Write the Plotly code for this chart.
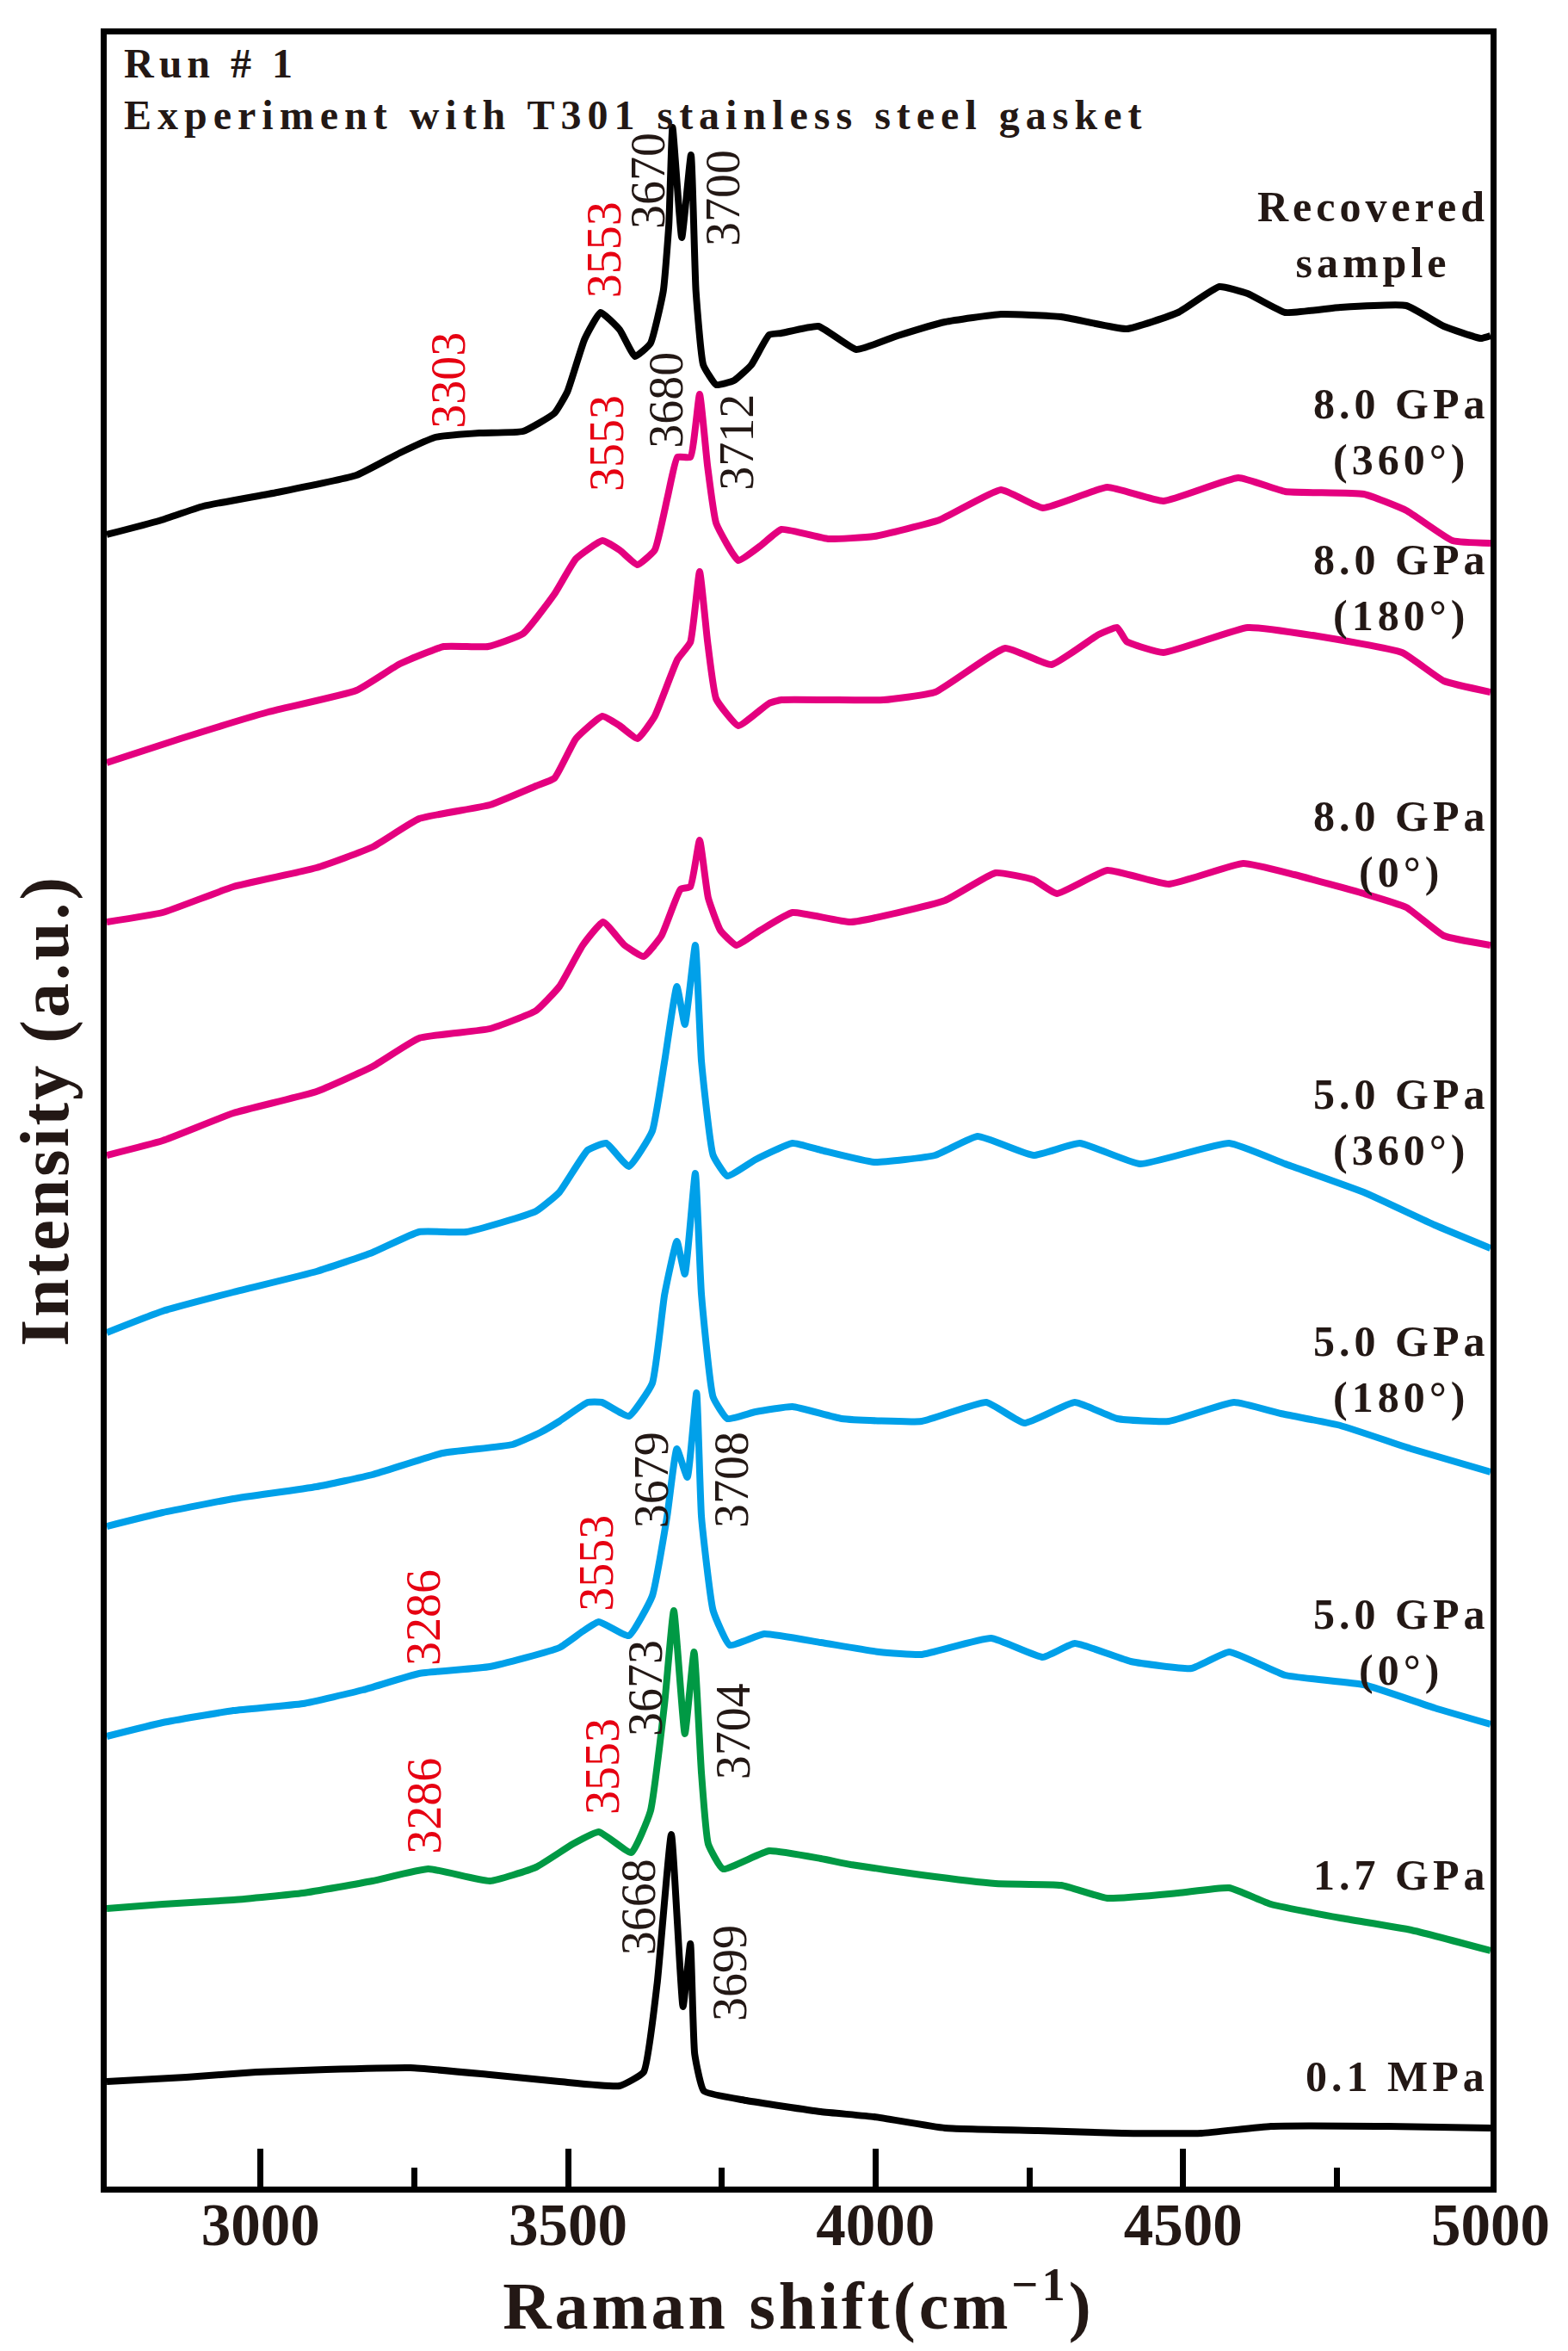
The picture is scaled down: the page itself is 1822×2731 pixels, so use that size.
import plotly.graph_objects as go

# ---------------- data (Raman shift in cm-1, stacked intensity in a.u.) ----------------
wn_recovered = [2750, 2835, 2907, 3027, 3156, 3227, 3284, 3356, 3427, 3478, 3499, 3527, 3553,
                3584, 3609, 3634, 3655, 3664, 3670, 3685, 3700, 3708, 3720, 3741, 3770, 3798,
                3827, 3847, 3907, 3969, 4036, 4113, 4204, 4302, 4408, 4492, 4559, 4605, 4666,
                4756, 4863, 4924, 4984, 5000]
int_recovered = [1919, 1935, 1952, 1968, 1988, 2014, 2032, 2037, 2039, 2060, 2085, 2146, 2177,
                 2157, 2126, 2141, 2202, 2279, 2392, 2264, 2360, 2202, 2116, 2093, 2098, 2116,
                 2151, 2153, 2161, 2134, 2150, 2166, 2175, 2172, 2158, 2177, 2207, 2199, 2177,
                 2183, 2185, 2161, 2147, 2150]

wn_8gpa_360 = [2750, 2870, 3013, 3156, 3227, 3298, 3370, 3427, 3478, 3513, 3556, 3584, 3613,
               3641, 3662, 3678, 3699, 3714, 3727, 3741, 3777, 3813, 3847, 3923, 3998, 4104,
               4204, 4272, 4377, 4468, 4590, 4666, 4794, 4863, 4938, 5000]
int_8gpa_360 = [1654, 1682, 1713, 1738, 1769, 1789, 1789, 1804, 1850, 1891, 1912, 1901, 1884,
                1901, 1963, 2009, 2009, 2082, 1998, 1932, 1889, 1906, 1925, 1914, 1917, 1936,
                1971, 1950, 1974, 1958, 1985, 1969, 1966, 1947, 1912, 1909]

wn_8gpa_180 = [2750, 2841, 2956, 3091, 3182, 3258, 3373, 3448, 3478, 3513, 3556, 3584, 3613,
               3641, 3678, 3699, 3714, 3727, 3741, 3777, 3827, 3847, 3923, 4013, 4097, 4211,
               4286, 4363, 4393, 4408, 4468, 4605, 4719, 4856, 4924, 5000]
int_8gpa_180 = [1469, 1480, 1510, 1532, 1556, 1589, 1605, 1627, 1636, 1682, 1708, 1697, 1682,
                1708, 1774, 1794, 1876, 1794, 1728, 1697, 1723, 1727, 1727, 1727, 1736, 1787,
                1768, 1803, 1811, 1795, 1782, 1811, 1801, 1782, 1749, 1736]

wn_8gpa_0 = [2750, 2841, 2956, 3091, 3182, 3258, 3373, 3448, 3486, 3524, 3557, 3592, 3623,
             3652, 3683, 3699, 3714, 3728, 3748, 3774, 3812, 3865, 3960, 4113, 4195, 4257,
             4295, 4377, 4477, 4598, 4681, 4794, 4863, 4924, 5000]
int_8gpa_0 = [1198, 1215, 1247, 1272, 1301, 1334, 1345, 1366, 1394, 1442, 1469, 1442, 1429,
              1453, 1507, 1510, 1564, 1497, 1459, 1442, 1459, 1480, 1469, 1494, 1526, 1518,
              1502, 1529, 1513, 1537, 1524, 1502, 1486, 1453, 1442]

wn_5gpa_360 = [2750, 2841, 2956, 3091, 3182, 3258, 3335, 3448, 3486, 3532, 3562, 3599, 3637,
               3657, 3677, 3690, 3707, 3717, 3736, 3759, 3805, 3865, 3911, 3998, 4097, 4166,
               4257, 4332, 4430, 4575, 4666, 4794, 4909, 5000]
int_5gpa_360 = [992, 1017, 1039, 1063, 1085, 1109, 1109, 1133, 1155, 1204, 1212, 1185, 1226,
                1307, 1394, 1350, 1442, 1307, 1198, 1174, 1193, 1212, 1204, 1190, 1198, 1220,
                1198, 1212, 1188, 1212, 1188, 1155, 1117, 1090]

wn_5gpa_180 = [2750, 2841, 2956, 3091, 3182, 3296, 3410, 3455, 3486, 3532, 3555, 3599, 3637,
               3657, 3677, 3690, 3707, 3717, 3736, 3759, 3805, 3865, 3945, 4075, 4180, 4242,
               4324, 4393, 4477, 4583, 4659, 4756, 4871, 5000]
int_5gpa_180 = [767, 783, 799, 813, 827, 852, 862, 876, 889, 911, 911, 895, 933,
                1036, 1098, 1060, 1177, 1036, 917, 892, 900, 906, 892, 889, 911, 887,
                911, 892, 889, 911, 898, 884, 857, 830]

wn_5gpa_0 = [2750, 2841, 2956, 3069, 3167, 3258, 3373, 3486, 3524, 3550, 3599, 3637, 3661,
             3677, 3694, 3709, 3717, 3736, 3763, 3819, 3911, 4006, 4075, 4188, 4272, 4324,
             4415, 4514, 4575, 4666, 4794, 4909, 5000]
int_5gpa_0 = [523, 539, 553, 561, 577, 596, 604, 626, 645, 656, 640, 686, 778,
              857, 824, 922, 778, 669, 629, 642, 632, 621, 618, 637, 615, 631,
              610, 602, 621, 594, 583, 556, 537]

wn_1p7gpa = [2750, 2841, 2956, 3069, 3182, 3273, 3373, 3448, 3508, 3550, 3603, 3634, 3657,
             3672, 3690, 3705, 3717, 3728, 3752, 3827, 3911, 3960, 4075, 4195, 4302, 4377,
             4492, 4575, 4643, 4756, 4871, 5000]
int_1p7gpa = [323, 328, 333, 341, 355, 369, 355, 371, 398, 412, 388, 436, 561,
              669, 526, 621, 480, 398, 369, 390, 381, 374, 362, 352, 350, 335,
              341, 347, 328, 312, 298, 274]

wn_0p1mpa = [2750, 2879, 2993, 3107, 3244, 3373, 3486, 3584, 3623, 3645, 3668, 3687, 3699,
             3706, 3721, 3790, 3911, 3998, 4113, 4264, 4401, 4530, 4643, 4833, 5000]
int_0p1mpa = [122, 127, 133, 136, 138, 130, 122, 117, 133, 236, 409, 209, 282,
              154, 111, 100, 87, 81, 68, 65, 62, 62, 70, 70, 68]

series_names = ["Recovered sample", "8.0 GPa (360°)", "8.0 GPa (180°)", "8.0 GPa (0°)",
                "5.0 GPa (360°)", "5.0 GPa (180°)", "5.0 GPa (0°)", "1.7 GPa", "0.1 MPa"]
series_x = [wn_recovered, wn_8gpa_360, wn_8gpa_180, wn_8gpa_0, wn_5gpa_360, wn_5gpa_180,
            wn_5gpa_0, wn_1p7gpa, wn_0p1mpa]
series_y = [int_recovered, int_8gpa_360, int_8gpa_180, int_8gpa_0, int_5gpa_360, int_5gpa_180,
            int_5gpa_0, int_1p7gpa, int_0p1mpa]
series_colors = ["#000000", "#E4007F", "#E4007F", "#E4007F", "#00A0E9", "#00A0E9",
                 "#00A0E9", "#009944", "#000000"]

# right-hand labels: (text lines, y position in a.u.)
side_labels = [("Recovered", "sample"), ("8.0 GPa", "(360°)"), ("8.0 GPa", "(180°)"),
               ("8.0 GPa", "(0°)"), ("5.0 GPa", "(360°)"), ("5.0 GPa", "(180°)"),
               ("5.0 GPa", "(0°)"), ("1.7 GPa",), ("0.1 MPa",)]
side_label_y = [2268, 2039, 1858, 1560, 1237, 950, 633, 362, 128]

# peak labels: text, x (cm-1), y (a.u.), colour key
peak_text = ["3303", "3553", "3670", "3700", "3553", "3680", "3712", "3679", "3708",
             "3286", "3553", "3673", "3704", "3286", "3553", "3668", "3699"]
peak_x = [3305, 3559, 3630, 3752, 3563, 3659, 3774, 3636, 3766,
          3265, 3546, 3626, 3769, 3266, 3556, 3615, 3763]
peak_y = [2098, 2250, 2330, 2310, 2025, 2075, 2026, 821, 821,
          661, 724, 579, 529, 442, 488, 325, 248]
peak_red = [True, True, False, False, True, False, False, False, False,
            True, True, False, False, True, True, False, False]

x_ticks = [3000, 3500, 4000, 4500, 5000]

# ---------------- figure ----------------
SERIF = "Liberation Serif, Times New Roman, serif"
TXT = "#231815"
RED = "#E60012"


def spaced(s, px):
    return '<span style="letter-spacing:%dpx">%s</span>' % (px, s)


fig = go.Figure()
for name, xs, ys, col in zip(series_names, series_x, series_y, series_colors):
    fig.add_trace(go.Scatter(x=xs, y=ys, mode="lines", name=name,
                             line=dict(color=col, width=8, shape="spline", smoothing=0.4),
                             showlegend=False))

annotations = []
for lines, yv in zip(side_labels, side_label_y):
    annotations.append(dict(
        x=1, xref="paper", y=yv, yref="y", xanchor="right", yanchor="middle",
        text="<br>".join(spaced(l, 5) for l in lines), showarrow=False, align="center",
        font=dict(family=SERIF, size=50, color=TXT, weight="bold")))

for t, xv, yv, red in zip(peak_text, peak_x, peak_y, peak_red):
    annotations.append(dict(
        x=xv, y=yv, xref="x", yref="y", text=t, showarrow=False, textangle=-90,
        xanchor="center", yanchor="middle",
        font=dict(family=SERIF, size=56, color=RED if red else TXT)))

annotations.append(dict(x=0, xref="paper", xshift=18, y=0.9864, yref="paper",
                        xanchor="left", yanchor="middle", showarrow=False,
                        text=spaced("Run # 1", 6),
                        font=dict(family=SERIF, size=48, color=TXT, weight="bold")))
annotations.append(dict(x=0, xref="paper", xshift=18, y=0.9628, yref="paper",
                        xanchor="left", yanchor="middle", showarrow=False,
                        text=spaced("Experiment with T301 stainless steel gasket", 7),
                        font=dict(family=SERIF, size=48, color=TXT, weight="bold")))

fig.update_layout(
    width=1822, height=2731,
    margin=dict(l=116, r=98, t=32, b=199, autoexpand=False),
    paper_bgcolor="white", plot_bgcolor="white",
    annotations=annotations,
    showlegend=False,
)

fig.update_xaxes(
    range=[2750, 5000], tickvals=x_ticks, ticktext=[str(v) for v in x_ticks],
    ticks="inside", ticklen=44, tickwidth=7, tickcolor="black",
    minor=dict(dtick=250, tick0=2750, ticks="inside", ticklen=22, tickwidth=7, tickcolor="black"),
    showline=True, linewidth=7, linecolor="black", mirror=True,
    showgrid=False, zeroline=False,
    tickfont=dict(family=SERIF, size=69, color=TXT, weight="bold"),
    ticklabelstandoff=-22,
    title=dict(text=spaced("Raman shift(cm<sup>−1</sup>)", 4), standoff=3,
               font=dict(family=SERIF, size=78, color=TXT, weight="bold")),
)
fig.update_yaxes(
    range=[0, 2500], showticklabels=False, ticks="",
    showline=True, linewidth=7, linecolor="black", mirror=True,
    showgrid=False, zeroline=False,
    title=dict(text=spaced("Intensity (a.u.)", 3), standoff=24,
               font=dict(family=SERIF, size=80, color=TXT, weight="bold")),
)

fig.write_html("out.html")
